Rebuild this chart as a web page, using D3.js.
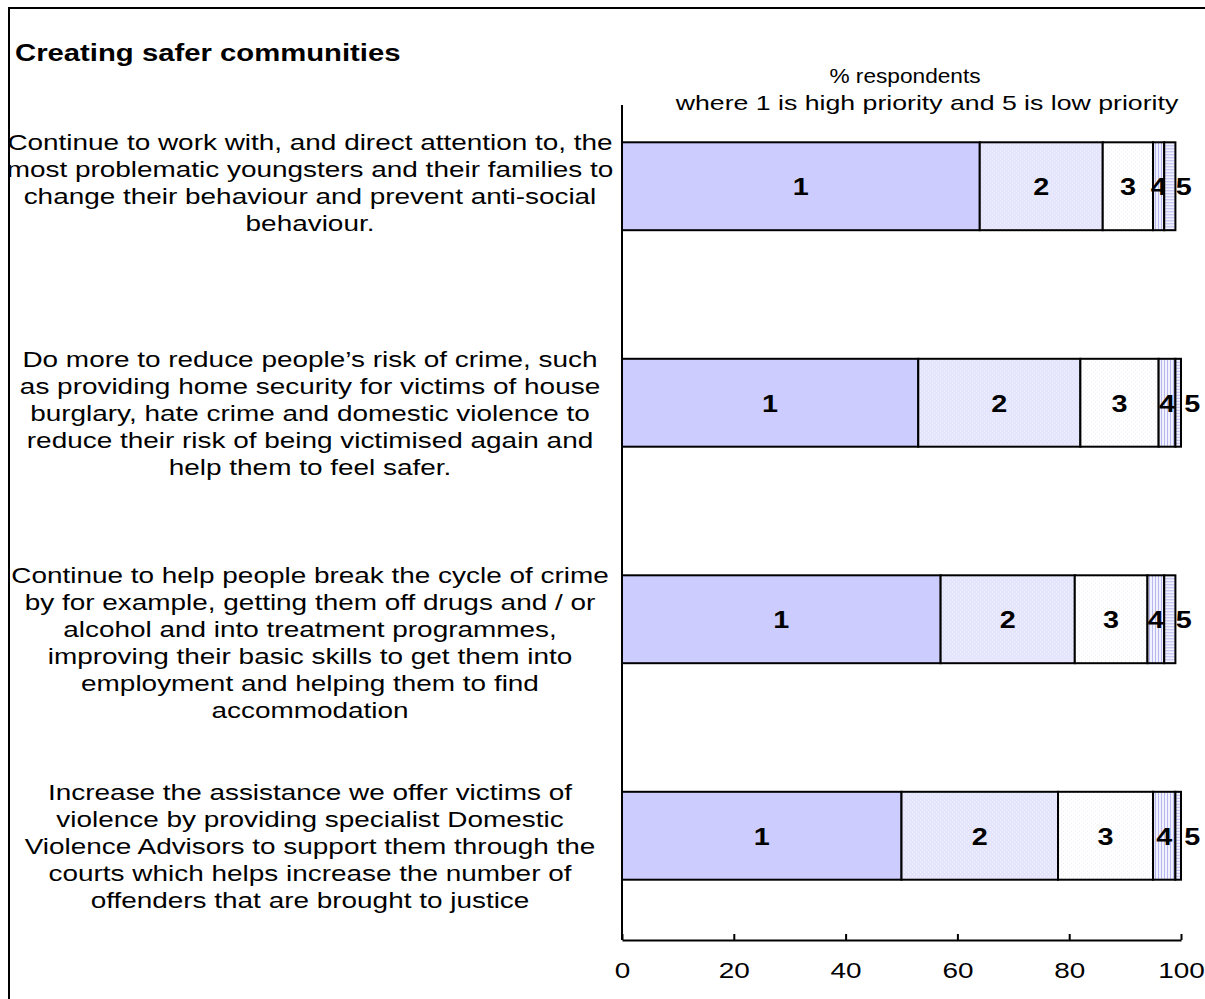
<!DOCTYPE html>
<html>
<head>
<meta charset="utf-8">
<script src="https://cdn.jsdelivr.net/npm/d3@7"></script>
<style>
  body { margin: 0; background: #fff; }
  svg text { font-family: "Liberation Sans", Arial, sans-serif; }
</style>
</head>
<body>
<div id="chart"></div>
<script>
// category labels, already broken into lines as in the original
var categories = [
  ["Continue to work with, and direct attention to, the",
   "most problematic youngsters and their families to",
   "change their behaviour and prevent anti-social",
   "behaviour."],
  ["Do more to reduce people\u2019s risk of crime, such",
   "as providing home security for victims of house",
   "burglary, hate crime and domestic violence to",
   "reduce their risk of being victimised again and",
   "help them to feel safer."],
  ["Continue to help people break the cycle of crime",
   "by for example, getting them off drugs and / or",
   "alcohol and into treatment programmes,",
   "improving their basic skills to get them into",
   "employment and helping them to find",
   "accommodation"],
  ["Increase the assistance we offer victims of",
   "violence by providing specialist Domestic",
   "Violence Advisors to support them through the",
   "courts which helps increase the number of",
   "offenders that are brought to justice"]
];

var priorities = ["1", "2", "3", "4", "5"];

// % respondents per priority, one array per category
var cat1 = [64, 22, 9, 2, 2];
var cat2 = [53, 29, 14, 3, 1];
var cat3 = [57, 24, 13, 3, 2];
var cat4 = [50, 28, 17, 4, 1];

var xTicks = [0, 20, 40, 60, 80, 100];

var values = [cat1, cat2, cat3, cat4];

var W = 1205, H = 999;
var STRETCH = 1.27; // the original text is drawn wide
var svg = d3.select("#chart").append("svg")
  .attr("width", W).attr("height", H);

// fill patterns for the five segments
var defs = svg.append("defs");
var p2 = defs.append("pattern").attr("id", "p2").attr("patternUnits", "userSpaceOnUse")
  .attr("width", 4).attr("height", 4);
p2.append("rect").attr("width", 4).attr("height", 4).attr("fill", "#e4e4fd");
p2.append("rect").attr("x", 0).attr("y", 0).attr("width", 1).attr("height", 1).attr("fill", "#f4f4ff");
p2.append("rect").attr("x", 2).attr("y", 2).attr("width", 1).attr("height", 1).attr("fill", "#f4f4ff");

var p3 = defs.append("pattern").attr("id", "p3").attr("patternUnits", "userSpaceOnUse")
  .attr("width", 4).attr("height", 4);
p3.append("rect").attr("width", 4).attr("height", 4).attr("fill", "#ffffff");
p3.append("rect").attr("x", 1).attr("y", 1).attr("width", 1).attr("height", 1).attr("fill", "#ececf4");
p3.append("rect").attr("x", 3).attr("y", 3).attr("width", 1).attr("height", 1).attr("fill", "#ececf4");

var p4 = defs.append("pattern").attr("id", "p4").attr("patternUnits", "userSpaceOnUse")
  .attr("width", 3).attr("height", 3);
p4.append("rect").attr("width", 3).attr("height", 3).attr("fill", "#f2f2ff");
p4.append("rect").attr("width", 1).attr("height", 3).attr("fill", "#b8b8f0");

var p5 = defs.append("pattern").attr("id", "p5").attr("patternUnits", "userSpaceOnUse")
  .attr("width", 3).attr("height", 3);
p5.append("rect").attr("width", 3).attr("height", 3).attr("fill", "#f2f2ff");
p5.append("rect").attr("width", 3).attr("height", 1).attr("fill", "#b8b8f0");

var fills = ["#ccccff", "url(#p2)", "url(#p3)", "url(#p4)", "url(#p5)"];

// text placed at (x, y) and stretched horizontally
function wideText(x, y, size, bold, anchor, k) {
  return svg.append("text")
    .attr("transform", "translate(" + x + "," + y + ") scale(" + (k || STRETCH) + ",1)")
    .attr("text-anchor", anchor || "middle")
    .style("font-size", size + "px")
    .style("font-weight", bold ? "bold" : "normal");
}

// outer frame
svg.append("rect")
  .attr("x", 9).attr("y", 8).attr("width", W + 20).attr("height", H + 20)
  .attr("fill", "none").attr("stroke", "#000").attr("stroke-width", 2);

wideText(15, 61, 24, true, "start", 1.22).text("Creating safer communities");

var x = d3.scaleLinear().domain([0, 100]).range([622, 1181]);
var y = d3.scaleBand().domain(d3.range(categories.length))
  .range([78, 944]).paddingInner(0.594).paddingOuter(0.297);

// axis title
wideText(905, 83, 21, false, "middle", 1.08).text("% respondents");
wideText(927, 110, 21, false).text("where 1 is high priority and 5 is low priority");

// stacked bars
var groups = svg.selectAll("g.bar").data(values).enter().append("g")
  .attr("class", "bar")
  .attr("transform", function(d, i) { return "translate(0," + y(i) + ")"; });

groups.each(function(row) {
  var g = d3.select(this);
  var cum = 0;
  row.forEach(function(v, k) {
    var x0 = x(cum), x1 = x(cum + v);
    g.append("rect")
      .attr("x", x0).attr("y", 0)
      .attr("width", x1 - x0).attr("height", y.bandwidth())
      .attr("fill", fills[k]).attr("stroke", "#000").attr("stroke-width", 2);
    var cx = (x0 + x1) / 2;
    if (k === 4) cx += 14;
    g.append("text")
      .attr("transform", "translate(" + cx + "," + (y.bandwidth() / 2 + 9) + ") scale(1.2,1)")
      .attr("text-anchor", "middle")
      .style("font-size", "24px").style("font-weight", "bold")
      .text(priorities[k]);
    cum += v;
  });
});

// category labels, first line level with the bar top
categories.forEach(function(lines, i) {
  var t = wideText(310, y(i) + 8, 22, false);
  lines.forEach(function(line, j) {
    t.append("tspan").attr("x", 0).attr("y", j * 27).text(line);
  });
});

// y axis line
svg.append("line")
  .attr("x1", 622).attr("x2", 622).attr("y1", 105).attr("y2", 940)
  .attr("stroke", "#000").attr("stroke-width", 2);

// x axis
var xAxis = d3.axisBottom(x).tickValues(xTicks).tickSizeInner(-6).tickSizeOuter(0).tickPadding(22);
var ax = svg.append("g").attr("transform", "translate(0,940)").call(xAxis);
ax.select(".domain").attr("stroke", "#000").attr("stroke-width", 2);
ax.selectAll(".tick line").attr("stroke", "#000").attr("stroke-width", 2);
ax.selectAll(".tick text")
  .attr("transform", "scale(" + STRETCH + ",1)")
  .style("font-size", "22px")
  .style("font-family", "Liberation Sans, Arial, sans-serif")
  .attr("fill", "#000");
</script>
</body>
</html>
